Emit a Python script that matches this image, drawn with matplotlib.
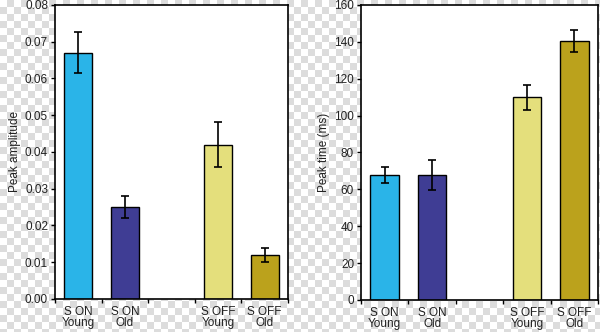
import numpy as np
import matplotlib
matplotlib.use("Agg")
import matplotlib.pyplot as plt

plt.rcParams['font.family'] = ['Liberation Sans', 'DejaVu Sans']

groups = ["S ON\nYoung", "S ON\nOld", "", "S OFF\nYoung", "S OFF\nOld"]
colors = ["#2ab4e8", "#3f3d94", "#ffffff", "#e4df7c", "#bba21c"]

amp_mean = [0.067, 0.025, np.nan, 0.042, 0.012]
amp_err = [0.0055, 0.003, np.nan, 0.0062, 0.002]

time_mean = [67.8, 67.8, np.nan, 109.8, 140.3]
time_err = [4.5, 8.2, np.nan, 6.7, 6.0]

fig = plt.figure(figsize=(6, 3.32), dpi=100)

# transparent-looking checker background
bg = fig.add_axes([0, 0, 1, 1], zorder=-10)
cell = 7
ny, nx = 332 // cell + 1, 600 // cell + 1
checker = (np.add.outer(np.arange(ny), np.arange(nx)) % 2).astype(float)
bg.imshow(checker, cmap=matplotlib.colors.ListedColormap(["#ffffff", "#dcdcdc"]),
          extent=[0, nx * cell, ny * cell, 0], interpolation="nearest", aspect="auto")
bg.set_xlim(0, 600)
bg.set_ylim(332, 0)
bg.axis("off")

fs = 8.5


def panel(rect, means, errs, ymax, yticks, fmt, ylabel):
    ax = fig.add_axes(rect)
    ax.set_facecolor("white")
    x = np.arange(len(groups))
    ax.bar(x, means, width=0.6, color=colors, edgecolor="black", linewidth=1.0, zorder=2)
    ax.errorbar(x, means, yerr=errs, fmt="none", ecolor="black", elinewidth=1.2,
                capsize=3, capthick=1.2, zorder=3)
    ax.set_xlim(-0.5, len(groups) - 0.5)
    ax.set_ylim(0, ymax)
    ax.set_yticks(yticks)
    ax.set_yticklabels([fmt.format(v) for v in yticks])
    ax.set_xticks(np.arange(len(groups) + 1) - 0.5)
    ax.set_xticklabels([])
    ax.set_xticks(x, minor=True)
    ax.set_xticklabels(groups, minor=True, linespacing=0.95)
    ax.tick_params(axis="x", which="minor", length=0, pad=5, labelsize=fs, colors="#222222")
    ax.tick_params(axis="x", which="major", length=3, width=1, direction="out")
    ax.tick_params(axis="y", length=3, width=1, direction="out", labelsize=fs, pad=2,
                   labelcolor="#222222")
    for s in ax.spines.values():
        s.set_linewidth(1.2)
        s.set_color("black")
    ax.set_ylabel(ylabel, fontsize=fs, color="#222222", labelpad=3)
    return ax


panel([0.0917, 0.0994, 0.388, 0.886], amp_mean, amp_err, 0.08,
      np.arange(0, 0.081, 0.01), "{:.2f}", "Peak amplitude")
panel([0.6017, 0.0964, 0.395, 0.889], time_mean, time_err, 160,
      np.arange(0, 161, 20), "{:.0f}", "Peak time (ms)")

fig.savefig("out.png", dpi=100)
